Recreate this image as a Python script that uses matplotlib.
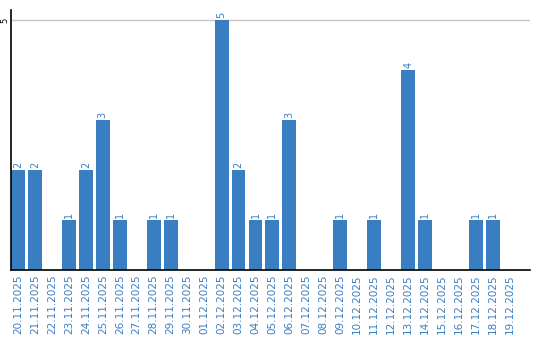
import numpy as np
import matplotlib.pyplot as plt

dates = ['20.11.2025', '21.11.2025', '22.11.2025', '23.11.2025', '24.11.2025',
         '25.11.2025', '26.11.2025', '27.11.2025', '28.11.2025', '29.11.2025',
         '30.11.2025', '01.12.2025', '02.12.2025', '03.12.2025', '04.12.2025',
         '05.12.2025', '06.12.2025', '07.12.2025', '08.12.2025', '09.12.2025',
         '10.12.2025', '11.12.2025', '12.12.2025', '13.12.2025', '14.12.2025',
         '15.12.2025', '16.12.2025', '17.12.2025', '18.12.2025', '19.12.2025']
counts = [2, 2, 0, 1, 2, 3, 1, 0, 1, 1,
          0, 0, 5, 2, 1, 1, 3, 0, 0, 1,
          0, 1, 0, 4, 1, 0, 0, 1, 1, 0]

blue = '#3a7ec2'

fig = plt.figure(figsize=(5.4, 3.4), dpi=100)
ax = fig.add_axes([11/540, 70/340, 519/540, 260/340])

x = np.arange(len(dates))
w = 0.82
ax.bar(x, counts, width=w, color=blue, zorder=2)

for xi, c in zip(x, counts):
    if c > 0:
        ax.text(xi, c + 0.05, str(c), rotation=90, ha='center', va='bottom',
                color=blue, fontsize=7)

ax.set_xlim(-w/2, 30.18)
ax.set_ylim(0, 5.2)
ax.set_yticks([5])
ax.set_yticklabels(['5'], rotation=90, va='center', fontsize=6)
ax.yaxis.grid(True, color='#c8c8c8', linewidth=1, zorder=0)
ax.set_xticks(x)
ax.set_xticklabels(dates, rotation=90, color=blue, fontsize=7.5)
ax.tick_params(length=0, pad=3)
ax.tick_params(axis='y', pad=1)

for s in ['top', 'right']:
    ax.spines[s].set_visible(False)
ax.spines['left'].set_linewidth(1.2)
ax.spines['bottom'].set_linewidth(1.2)

fig.savefig('out.png', dpi=100)
